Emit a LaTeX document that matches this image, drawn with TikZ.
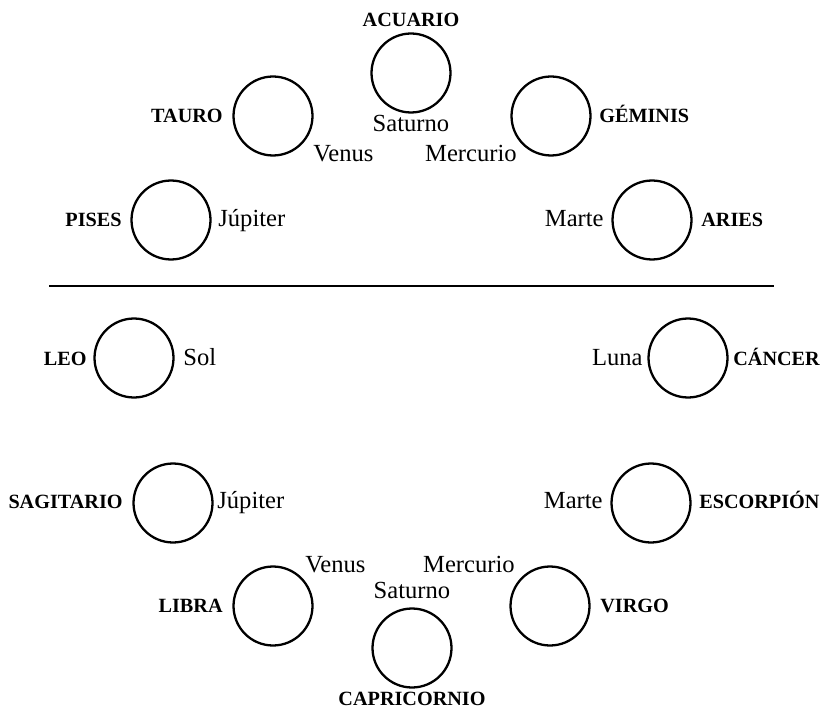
\documentclass[tikz,border=0pt]{standalone}
\usepackage{fontspec}
\setmainfont{Liberation Serif}
\usetikzlibrary{positioning}

\begin{document}
\begin{tikzpicture}[x=0.02cm,y=-0.02cm,
    sign/.style={circle,draw,line width=1.3pt,minimum size=1.58cm,inner sep=0pt},
    zodiac/.style={font=\fontsize{11.5}{13}\selectfont\bfseries,inner sep=0pt},
    planet/.style={font=\fontsize{14}{16}\selectfont,inner sep=0pt}]
    \useasboundingbox (0,0) rectangle (827,709);

    % Signs above the line
    \foreach \n/\x/\y in {acuario/411/73, tauro/273/116, geminis/551/116, pises/171/220, aries/652/220} {
        \node[sign] (\n) at (\x,\y) {};
    }
    \node[zodiac,anchor=base] (acuario-t) at (411,27) {ACUARIO};
    \node[zodiac,anchor=base east] (tauro-t) at (223,123) {TAURO};
    \node[zodiac,anchor=base west] (geminis-t) at (599,123) {GÉMINIS};
    \node[zodiac,anchor=base east] (pises-t) at (122,227) {PISES};
    \node[zodiac,anchor=base west] (aries-t) at (701,227) {ARIES};
    \node[planet,anchor=base] (acuario-p) at (411,132) {Saturno};
    \node[planet,anchor=base west] (tauro-p) at (313,162) {Venus};
    \node[planet,anchor=base east] (geminis-p) at (517,162) {Mercurio};
    \node[planet,anchor=base west] (pises-p) at (218,227) {Júpiter};
    \node[planet,anchor=base east] (aries-p) at (604,227) {Marte};

    % Dividing line
    \draw[line width=1.3pt] (49,286) -- (774,286);

    % Signs below the line
    \foreach \n/\x/\y in {leo/134/358, cancer/688/358, sagitario/173/503, escorpion/651/503, libra/273/606, virgo/550/606, capricornio/412/648} {
        \node[sign] (\n) at (\x,\y) {};
    }
    \node[zodiac,anchor=base east] (leo-t) at (87,365) {LEO};
    \node[zodiac,anchor=base west] (cancer-t) at (733,365) {CÁNCER};
    \node[zodiac,anchor=base east] (sagitario-t) at (123,508) {SAGITARIO};
    \node[zodiac,anchor=base west] (escorpion-t) at (699,508) {ESCORPIÓN};
    \node[zodiac,anchor=base east] (libra-t) at (223,612) {LIBRA};
    \node[zodiac,anchor=base west] (virgo-t) at (600,612) {VIRGO};
    \node[zodiac,anchor=base] (capricornio-t) at (412,705) {CAPRICORNIO};
    \node[planet,anchor=base west] (leo-p) at (183,365) {Sol};
    \node[planet,anchor=base east] (cancer-p) at (643,365) {Luna};
    \node[planet,anchor=base west] (sagitario-p) at (217,508) {Júpiter};
    \node[planet,anchor=base east] (escorpion-p) at (603,508) {Marte};
    \node[planet,anchor=base west] (libra-p) at (305,572) {Venus};
    \node[planet,anchor=base east] (virgo-p) at (515,572) {Mercurio};
    \node[planet,anchor=base] (capricornio-p) at (412,598) {Saturno};
\end{tikzpicture}
\end{document}
